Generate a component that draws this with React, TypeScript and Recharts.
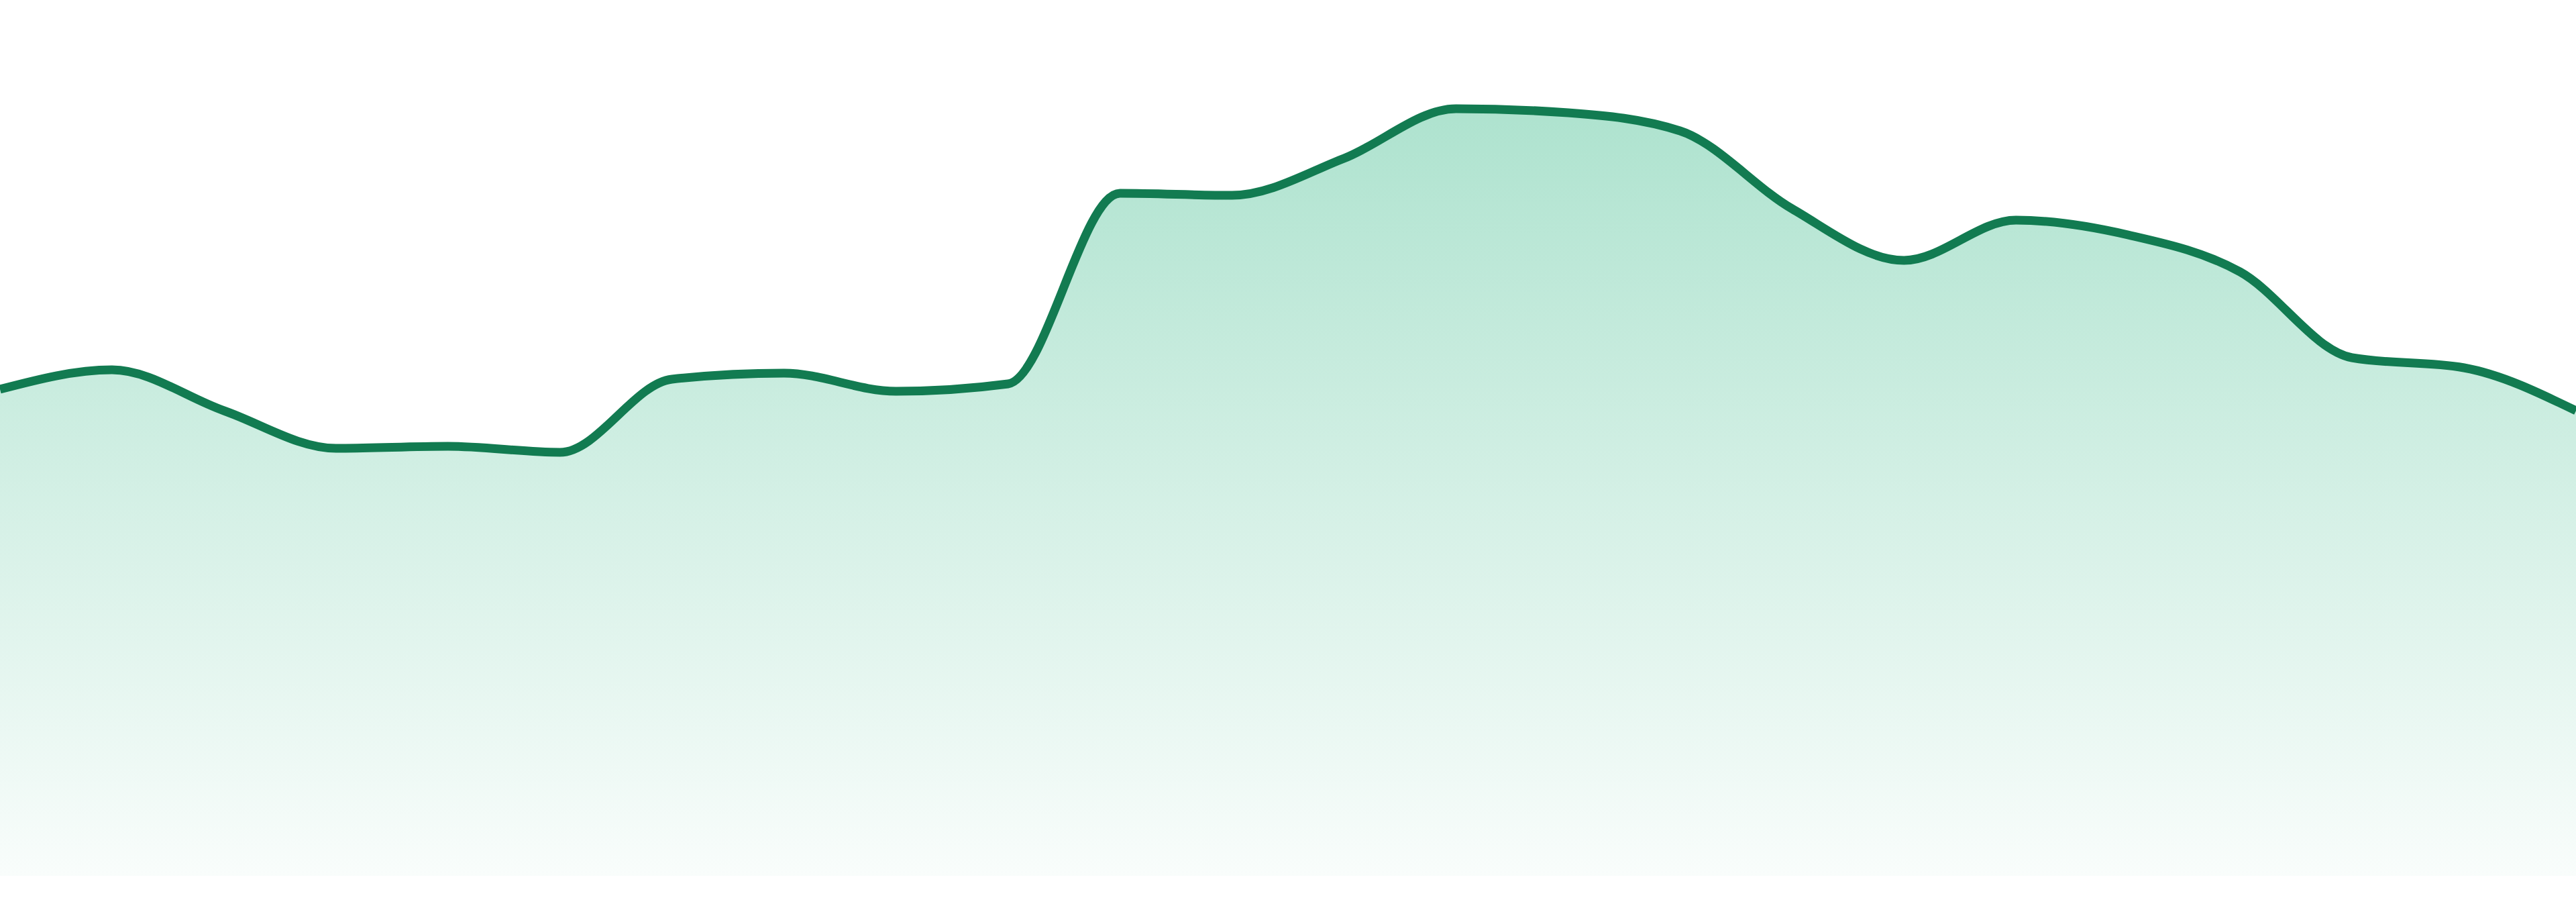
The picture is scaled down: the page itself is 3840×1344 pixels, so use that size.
import React from 'react';
import { AreaChart, Area, XAxis, YAxis } from 'recharts';

// one point every ~167px (height above the baseline)
const periods = [
  'P1', 'P2', 'P3', 'P4', 'P5', 'P6', 'P7', 'P8', 'P9', 'P10', 'P11', 'P12',
  'P13', 'P14', 'P15', 'P16', 'P17', 'P18', 'P19', 'P20', 'P21', 'P22', 'P23', 'P24',
];
const values = [
  725, 754, 693, 637, 640, 631, 740, 749, 722, 733, 1017, 1014,
  1069, 1143, 1137, 1110, 994, 917, 977, 955, 900, 772, 757, 693,
];
const yDomain = [0, 1305];

const data = periods.map((name, i) => ({ name, value: values[i] }));

export default function App() {
  return (
    <div style={{ position: 'absolute', left: 0, top: 0, width: 3840, height: 1344, background: '#fff' }}>
      <AreaChart width={3840} height={1305} data={data} margin={{ top: 0, right: 0, bottom: 0, left: 0 }}>
        <defs>
          <linearGradient id="greenFill" x1="0" y1="0" x2="0" y2="1">
            <stop offset="0%" stopColor="#34b886" stopOpacity={0.4} />
            <stop offset="100%" stopColor="#34b886" stopOpacity={0.03} />
          </linearGradient>
        </defs>
        <XAxis dataKey="name" hide />
        <YAxis hide domain={yDomain} />
        <Area
          type="monotone"
          dataKey="value"
          stroke="#127b51"
          strokeWidth={13}
          fill="url(#greenFill)"
          fillOpacity={1}
          dot={false}
          activeDot={false}
          isAnimationActive={false}
        />
      </AreaChart>
    </div>
  );
}
